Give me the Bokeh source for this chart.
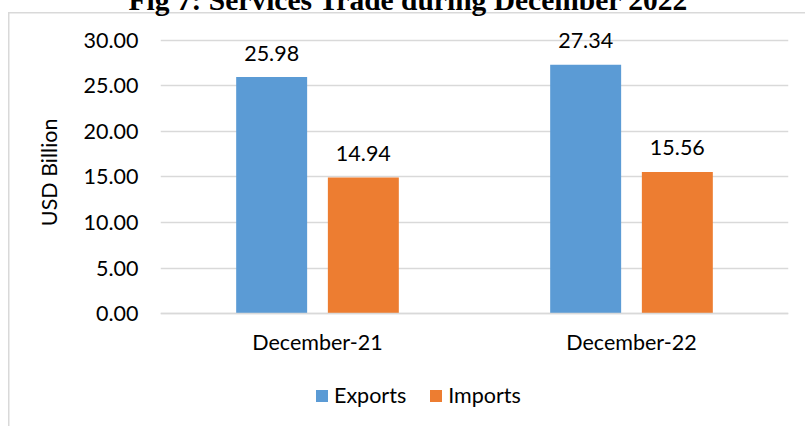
from bokeh.plotting import figure
from bokeh.models import (FactorRange, Range1d, FixedTicker, NumeralTickFormatter,
                          Legend, LegendItem, Title, ColumnDataSource)
from bokeh.transform import dodge
from bokeh.embed import file_html
from bokeh.resources import INLINE
from bokeh.core.properties import value

# ---- data ----
months = ["December-21", "December-22"]
exports = [25.98, 27.34]
imports = [14.94, 15.56]
series = ["Exports", "Imports"]
colors = ["#5b9bd5", "#ed7d31"]
y_ticks = [0, 5, 10, 15, 20, 25, 30]
title_text = "Fig 7: Services Trade during December 2022"
y_label = "USD Billion"

FONT = "Lato"
FS = "21.5px"
SHIFT = 30  # canvas is pulled up so that the title is cut at the top edge

src = ColumnDataSource(dict(
    month=months, exports=exports, imports=imports,
    exp_lbl=[f"{v:.2f}" for v in exports],
    imp_lbl=[f"{v:.2f}" for v in imports],
))

W, H = 805, 426 + SHIFT
p = figure(width=W, height=H,
           x_range=FactorRange(*months, range_padding=0),
           y_range=Range1d(-11.978, 31.978),
           output_backend="svg", toolbar_location=None,
           min_border_left=160, min_border_right=17,
           min_border_top=22 + SHIFT, min_border_bottom=4)
p.background_fill_color = "white"
p.border_fill_color = None
p.outline_line_color = None
p.styles = {
    "margin-top": f"-{SHIFT}px",
    "background": (f"linear-gradient(#d9d9d9, #d9d9d9) 8px {12 + SHIFT}px / 1.5px 100% no-repeat, "
                   f"linear-gradient(#d9d9d9, #d9d9d9) 8px {11.5 + SHIFT}px / 100% 1.5px no-repeat, white"),
}

# title
p.title.text = title_text
p.title.align = "left"
p.title.offset = -32
p.title.standoff = 14
p.title.text_font = "Liberation Serif"
p.title.text_font_style = "bold"
p.title.text_font_size = "29.5px"
p.title.text_color = "black"

off = 0.146
bw = 0.226
r1 = p.vbar(x=dodge("month", -off, range=p.x_range), top="exports", width=bw,
            source=src, fill_color=colors[0], line_color=None)
r2 = p.vbar(x=dodge("month", off, range=p.x_range), top="imports", width=bw,
            source=src, fill_color=colors[1], line_color=None)

for col, lbl, o in (("exports", "exp_lbl", -off), ("imports", "imp_lbl", off)):
    p.text(x=dodge("month", o, range=p.x_range), y=col, text=lbl, source=src,
           text_align="center", text_baseline="alphabetic", y_offset=-24,
           text_font=value(FONT), text_font_size=FS, text_color="black")

# axes
p.yaxis.ticker = FixedTicker(ticks=y_ticks)
p.yaxis.formatter = NumeralTickFormatter(format="0.00")
p.yaxis.bounds = (0, 31.2)
p.yaxis.axis_line_color = None
p.yaxis.major_tick_line_color = None
p.yaxis.minor_tick_line_color = None
p.yaxis.major_label_standoff = 16
p.yaxis.major_label_text_font = FONT
p.yaxis.major_label_text_font_size = FS
p.yaxis.major_label_text_color = "black"

ytitle = Title(text=y_label, align="right", offset=96, standoff=38,
               text_font=FONT, text_font_size=FS, text_font_style="normal",
               text_color="black")
p.add_layout(ytitle, "left")

p.xaxis.fixed_location = 0
p.xaxis.axis_line_color = "#d9d9d9"
p.xaxis.axis_line_width = 1.5
p.xaxis.major_tick_line_color = None
p.xaxis.minor_tick_line_color = None
p.xaxis.major_label_standoff = 9
p.xaxis.major_label_text_font = FONT
p.xaxis.major_label_text_font_size = FS
p.xaxis.major_label_text_color = "black"

p.xgrid.grid_line_color = None
p.ygrid.ticker = FixedTicker(ticks=y_ticks)
p.ygrid.grid_line_color = "#d9d9d9"
p.ygrid.grid_line_width = 1.5

legend = Legend(items=[LegendItem(label=series[0], renderers=[r1]),
                       LegendItem(label=series[1], renderers=[r2])],
                orientation="horizontal", location=(154, 14),
                glyph_width=15, glyph_height=15, label_standoff=5, spacing=22,
                padding=0, margin=0, border_line_color=None,
                background_fill_alpha=0,
                label_text_font=FONT, label_text_font_size=FS,
                label_text_color="black")
p.add_layout(legend, "center")

open("out.html", "w").write(file_html(p, INLINE))
